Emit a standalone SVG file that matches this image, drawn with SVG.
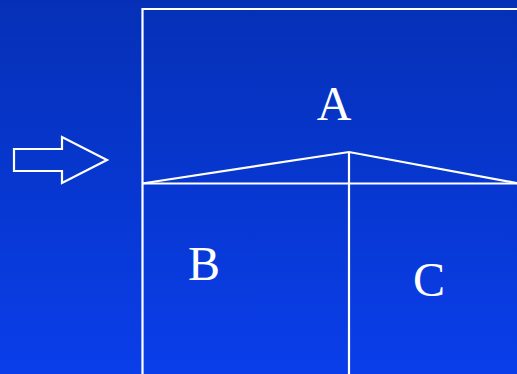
<svg xmlns="http://www.w3.org/2000/svg" width="517" height="374" viewBox="0 0 517 374">
<defs>
<linearGradient id="bg" x1="0" y1="0" x2="0" y2="1">
<stop offset="0" stop-color="#0530B6"/>
<stop offset="1" stop-color="#0A3EEA"/>
</linearGradient>
<style>
.ln{fill:none;stroke:#fff;stroke-width:2.2}
.t{font-family:"Liberation Serif",serif;font-size:48px;fill:#fff}
</style>
</defs>
<rect width="517" height="374" fill="url(#bg)"/>
<g id="arrow"><polygon class="ln" points="14,149 62,149 62,137 107,160 62,183 62,171 14,171"/></g>
<g id="connectors">
<polyline class="ln" points="519,9 142.5,9 142.5,376"/>
<line class="ln" x1="142" y1="183.5" x2="517" y2="183.5"/>
<polyline class="ln" points="142,183.5 349,152 519,183.5"/>
<line class="ln" x1="349" y1="152" x2="349" y2="376"/>
</g>
<g id="A"><text class="t" x="334" y="120" text-anchor="middle">A</text></g>
<g id="B"><text class="t" x="204" y="280" text-anchor="middle">B</text></g>
<g id="C"><text class="t" x="429" y="296" text-anchor="middle">C</text></g>
</svg>
